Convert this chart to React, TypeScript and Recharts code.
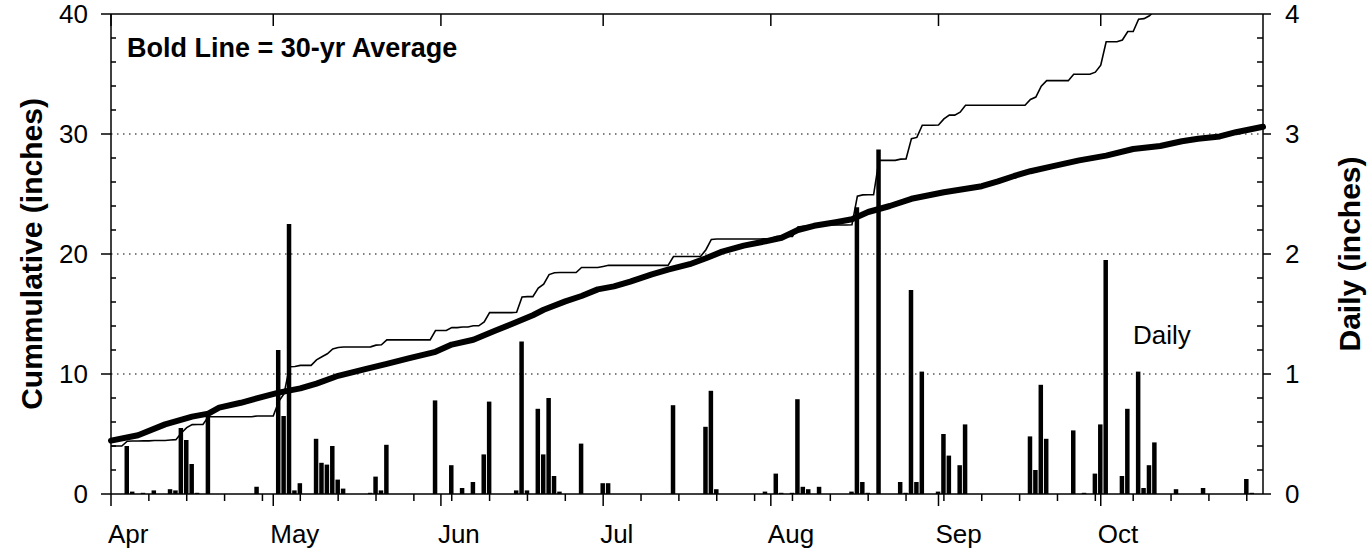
import { ComposedChart, Bar, Line, XAxis, YAxis, ReferenceLine } from 'recharts';

const FONT = '"Liberation Sans", Arial, Helvetica, sans-serif';

// day 0 = Apr 1, day 213 = Oct 31
const lastDay = 213;
const monthDays = [0, 30, 61, 91, 122, 153, 183];
const monthNames = ['Apr', 'May', 'Jun', 'Jul', 'Aug', 'Sep', 'Oct'];
const weekDays = [
  0, 7, 14, 21, 28, 35, 42, 49, 56, 63, 70, 77, 84, 91, 98, 105, 112, 119, 126, 133, 140, 147, 154,
  161, 168, 175, 182, 189, 196, 203, 210,
];
const cumTicks = [0, 2, 4, 6, 8, 10, 12, 14, 16, 18, 20, 22, 24, 26, 28, 30, 32, 34, 36, 38, 40];
const dailyTicks = [
  0, 0.2, 0.4, 0.6, 0.8, 1, 1.2, 1.4, 1.6, 1.8, 2, 2.2, 2.4, 2.6, 2.8, 3, 3.2, 3.4, 3.6, 3.8, 4,
];

// daily rainfall (inches), only the days with rain
const rainDays = [
  3, 4, 6, 8, 11, 12, 13, 14, 15, 16, 18, 27, 31, 32, 33, 34, 35, 38, 39, 40, 41, 42, 43, 48, 49, 50,
  51, 60, 63, 65, 67, 69, 70, 75, 76, 77, 79, 80, 81, 82, 83, 87, 91, 92, 104, 110, 111, 112, 121,
  123, 124, 126, 127, 128, 129, 131, 137, 138, 139, 140, 142, 146, 147, 148, 149, 150, 153, 154, 155,
  157, 158, 170, 171, 172, 173, 178, 180, 182, 183, 184, 187, 188, 190, 191, 192, 193, 197, 202, 210,
  211,
];
const rainInches = [
  0.4, 0.02, 0.01, 0.03, 0.04, 0.03, 0.55, 0.45, 0.25, 0.01, 0.65, 0.06, 1.2, 0.65, 2.25, 0.03, 0.09,
  0.46, 0.26, 0.245, 0.4, 0.12, 0.045, 0.01, 0.145, 0.03, 0.41, 0.78, 0.24, 0.05, 0.1, 0.33, 0.77,
  0.03, 1.27, 0.03, 0.71, 0.33, 0.8, 0.15, 0.02, 0.42, 0.09, 0.09, 0.74, 0.56, 0.86, 0.04, 0.02, 0.17,
  0.01, 0.01, 0.79, 0.06, 0.04, 0.06, 0.02, 2.39, 0.1, 0.01, 2.87, 0.1, 0.01, 1.7, 0.1, 1.02, 0.02,
  0.5, 0.32, 0.24, 0.58, 0.48, 0.2, 0.91, 0.46, 0.53, 0.01, 0.17, 0.58, 1.95, 0.15, 0.71, 1.02, 0.05,
  0.24, 0.43, 0.04, 0.05, 0.125, 0.01,
];
const obsStart = 4.0;

// 30-yr average cumulative (inches)
const avgDays = [
  0, 5, 10, 15, 18, 20, 24, 28, 31, 35, 38, 42, 47, 51, 55, 60, 63, 67, 71, 74, 78, 80, 84, 87, 90,
  93, 96, 100, 103, 107, 110, 113, 117, 121, 124, 127, 130, 134, 137, 140, 144, 148, 154, 161, 164,
  167, 170, 174, 179, 184, 189, 194, 198, 201, 205, 208, 213,
];
const avgInches = [
  4.45, 4.9, 5.8, 6.45, 6.7, 7.2, 7.6, 8.1, 8.45, 8.8, 9.2, 9.85, 10.4, 10.85, 11.3, 11.85, 12.45,
  12.85, 13.6, 14.15, 14.9, 15.35, 16.05, 16.5, 17.05, 17.3, 17.7, 18.3, 18.7, 19.15, 19.65, 20.2,
  20.7, 21.05, 21.35, 22.0, 22.35, 22.65, 22.9, 23.5, 24.0, 24.6, 25.15, 25.65, 26.05, 26.5, 26.9,
  27.3, 27.8, 28.2, 28.75, 29.0, 29.4, 29.6, 29.8, 30.15, 30.6,
];

const data: { day: number; rain: number | null; obs: number; avg: number | null }[] = [];
let total = obsStart;
for (let day = 0; day <= lastDay; day++) {
  const i = rainDays.indexOf(day);
  const rain = i >= 0 ? rainInches[i] : null;
  if (rain) total += rain;
  const j = avgDays.indexOf(day);
  data.push({ day, rain, obs: total, avg: j >= 0 ? avgInches[j] : null });
}

const bottomTicks = Array.from(new Set([...weekDays, ...monthDays])).sort((a, b) => a - b);

const W = 1369;
const H = 557;
// plot area: x 111..1263, y 14..494
const margin = { top: 4, right: 66, bottom: 23, left: 71 };

const BottomTick = (props: any) => {
  const { x, y, payload } = props;
  const m = monthDays.indexOf(payload.value);
  if (m >= 0) {
    return (
      <g>
        <line x1={x} x2={x} y1={y} y2={y + 12} stroke="#000" strokeWidth={1.5} />
        <text x={x - 3} y={y + 49} fontSize={26} fontFamily={FONT} fill="#000" textAnchor="start">
          {monthNames[m]}
        </text>
      </g>
    );
  }
  return <line x1={x} x2={x} y1={y} y2={y + 7} stroke="#000" strokeWidth={1.5} />;
};

const TopTick = (props: any) => {
  const { x, y } = props;
  return <line x1={x} x2={x} y1={y} y2={y + 12} stroke="#000" strokeWidth={1.5} />;
};

const LeftTick = (props: any) => {
  const { x, y, payload } = props;
  if (payload.value % 10 === 0) {
    return (
      <g>
        <line x1={x - 10} x2={x} y1={y} y2={y} stroke="#000" strokeWidth={1.5} />
        <text x={x - 23} y={y} dy="0.36em" fontSize={26} fontFamily={FONT} fill="#000" textAnchor="end">
          {payload.value}
        </text>
      </g>
    );
  }
  return <line x1={x} x2={x + 5} y1={y} y2={y} stroke="#000" strokeWidth={1.5} />;
};

const RightTick = (props: any) => {
  const { x, y, payload } = props;
  if (Number.isInteger(payload.value)) {
    return (
      <g>
        <line x1={x} x2={x + 8} y1={y} y2={y} stroke="#000" strokeWidth={1.5} />
        <text x={x + 22} y={y} dy="0.36em" fontSize={26} fontFamily={FONT} fill="#000" textAnchor="start">
          {payload.value}
        </text>
      </g>
    );
  }
  return <line x1={x - 6} x2={x} y1={y} y2={y} stroke="#000" strokeWidth={1.5} />;
};

const axisLine = { stroke: '#000', strokeWidth: 1.5 };

export default function App() {
  return (
    <div style={{ position: 'absolute', left: 0, top: 0, width: W, height: H, background: '#fff' }}>
      <ComposedChart width={W} height={H} data={data} margin={margin}>
        <XAxis
          xAxisId="bottom"
          type="number"
          dataKey="day"
          domain={[0, lastDay]}
          ticks={bottomTicks}
          interval={0}
          height={40}
          tickSize={0}
          tickMargin={0}
          tickLine={false}
          axisLine={axisLine}
          tick={<BottomTick />}
        />
        <XAxis
          xAxisId="top"
          orientation="top"
          type="number"
          dataKey="day"
          domain={[0, lastDay]}
          ticks={monthDays}
          interval={0}
          height={10}
          tickSize={0}
          tickMargin={0}
          tickLine={false}
          axisLine={axisLine}
          tick={<TopTick />}
        />
        <YAxis
          yAxisId="cum"
          orientation="left"
          type="number"
          domain={[0, 40]}
          ticks={cumTicks}
          interval={0}
          allowDataOverflow
          width={40}
          tickSize={0}
          tickMargin={0}
          tickLine={false}
          axisLine={axisLine}
          tick={<LeftTick />}
        />
        <YAxis
          yAxisId="daily"
          orientation="right"
          type="number"
          domain={[0, 4]}
          ticks={dailyTicks}
          interval={0}
          allowDataOverflow
          width={40}
          tickSize={0}
          tickMargin={0}
          tickLine={false}
          axisLine={axisLine}
          tick={<RightTick />}
        />
        {[10, 20, 30].map((v) => (
          <ReferenceLine
            key={v}
            xAxisId="bottom"
            yAxisId="cum"
            y={v}
            stroke="#000"
            strokeWidth={1}
            strokeDasharray="1.5 4.5"
          />
        ))}
        <Bar
          xAxisId="bottom"
          yAxisId="daily"
          dataKey="rain"
          fill="#000"
          barSize={4.5}
          isAnimationActive={false}
        />
        <Line
          xAxisId="bottom"
          yAxisId="cum"
          type="linear"
          dataKey="obs"
          stroke="#000"
          strokeWidth={1.6}
          dot={false}
          isAnimationActive={false}
        />
        <Line
          xAxisId="bottom"
          yAxisId="cum"
          type="linear"
          dataKey="avg"
          stroke="#000"
          strokeWidth={6}
          strokeLinecap="round"
          strokeLinejoin="round"
          connectNulls
          dot={false}
          isAnimationActive={false}
        />
      </ComposedChart>
      <svg
        width={W}
        height={H}
        style={{ position: 'absolute', left: 0, top: 0, pointerEvents: 'none' }}
      >
        <text x={127} y={56.5} fontSize={27} fontWeight="bold" fontFamily={FONT} fill="#000">
          Bold Line = 30-yr Average
        </text>
        <text x={1133} y={344} fontSize={26} fontFamily={FONT} fill="#000">
          Daily
        </text>
        <text
          x={31}
          y={254}
          dy="0.36em"
          fontSize={30}
          fontWeight="bold"
          fontFamily={FONT}
          fill="#000"
          textAnchor="middle"
          transform="rotate(-90 31 254)"
        >
          Cummulative (inches)
        </text>
        <text
          x={1349}
          y={254}
          dy="0.36em"
          fontSize={30}
          fontWeight="bold"
          fontFamily={FONT}
          fill="#000"
          textAnchor="middle"
          transform="rotate(-90 1349 254)"
        >
          Daily (inches)
        </text>
      </svg>
    </div>
  );
}
